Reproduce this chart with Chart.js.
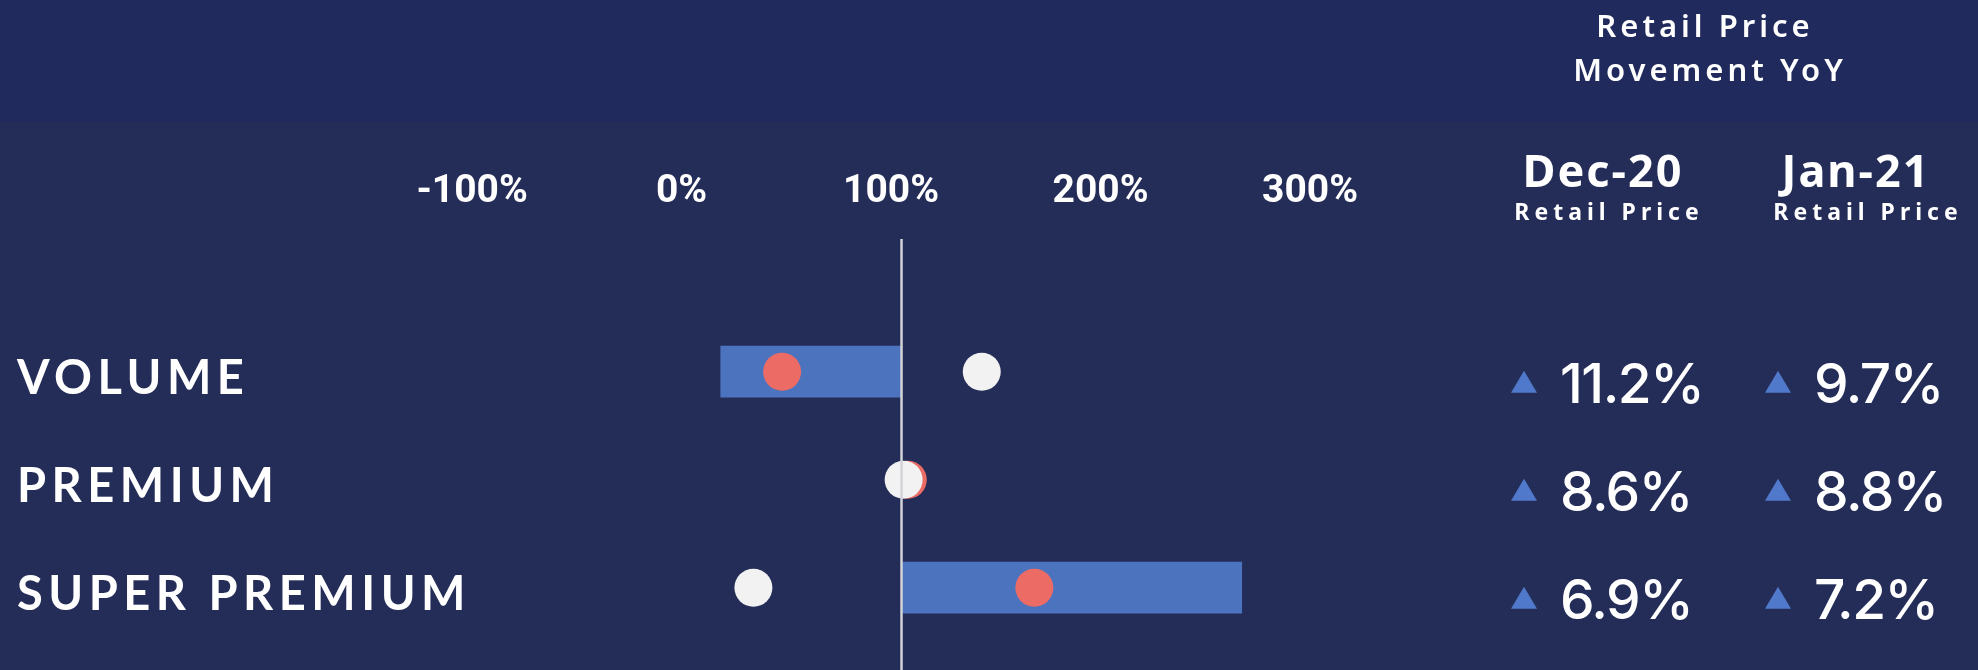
<!DOCTYPE html>
<html>
<head>
<meta charset="utf-8">
<script src="https://cdn.jsdelivr.net/npm/chart.js@4.4.1/dist/chart.umd.min.js"></script>
<style>
  html, body { margin: 0; padding: 0; background: #242c58; }
  canvas { display: block; }
</style>
</head>
<body>
<canvas id="chart" width="1978" height="670"></canvas>
<script>
const categories = ['VOLUME', 'PREMIUM', 'SUPER PREMIUM'];
const barRanges = [[18.7, 105], null, [105, 267.4]];
const redDots = [48, 108, 168.4];
const whiteDots = [143.3, 106, 34.3];
const baseline = 105;
const tickValues = [-100, 0, 100, 200, 300];

const headerLines = ['Retail Price', 'Movement YoY'];
const columns = ['Dec-20', 'Jan-21'];
const columnSub = 'Retail Price';
const dec20 = [11.2, 8.6, 6.9];
const jan21 = [9.7, 8.8, 7.2];

function toPoints(values) {
    return values.map((v, i) => ({ x: v, y: categories[i] }));
}

// background band, row labels, the YoY table and the 100% line
const overlay = {
    id: 'overlay',
    beforeDraw(chart) {
        const ctx = chart.ctx;
        ctx.save();
        ctx.fillStyle = '#242c58';
        ctx.fillRect(0, 0, chart.width, chart.height);
        ctx.fillStyle = '#212a5d';
        ctx.fillRect(0, 0, chart.width, 122);
        ctx.restore();
    },
    afterDatasetsDraw(chart) {
        const { ctx, scales: { x, y } } = chart;
        ctx.save();

        const lx = x.getPixelForValue(baseline);
        ctx.strokeStyle = '#d4d4d8';
        ctx.lineWidth = 2.5;
        ctx.beginPath();
        ctx.moveTo(lx, 239);
        ctx.lineTo(lx, chart.height);
        ctx.stroke();

        ctx.fillStyle = '#ffffff';
        ctx.textBaseline = 'alphabetic';

        // row labels
        ctx.textAlign = 'left';
        ctx.font = '700 47px Lato';
        ctx.letterSpacing = '5.5px';
        categories.forEach((c, i) => {
            ctx.fillText(c, 17, y.getPixelForValue(i) + 22);
        });

        // table header
        ctx.textAlign = 'center';
        ctx.font = '600 31px "Noto Sans"';
        ctx.letterSpacing = '4px';
        ctx.fillText(headerLines[0], 1705, 37);
        ctx.fillText(headerLines[1], 1710, 81);

        ctx.font = '700 45px "Noto Sans"';
        ctx.letterSpacing = '2px';
        ctx.fillText(columns[0], 1603, 187);
        ctx.fillText(columns[1], 1856, 187);

        ctx.font = '700 23px "Noto Sans"';
        ctx.letterSpacing = '5px';
        ctx.fillText(columnSub, 1609, 220);
        ctx.fillText(columnSub, 1868, 220);

        // values with up arrows
        ctx.letterSpacing = '-1.5px';
        ctx.textAlign = 'left';
        ctx.font = '500 55px Inter';
        [[dec20, 1560], [jan21, 1814]].forEach(([vals, tx]) => {
            vals.forEach((v, i) => {
                const py = y.getPixelForValue(i);
                const cx = tx - 36;
                ctx.fillStyle = '#5179cb';
                ctx.beginPath();
                ctx.moveTo(cx, py - 1);
                ctx.lineTo(cx + 13, py + 21);
                ctx.lineTo(cx - 13, py + 21);
                ctx.closePath();
                ctx.fill();
                ctx.fillStyle = '#ffffff';
                ctx.fillText(v.toFixed(1) + '%', tx, py + 31);
            });
        });

        ctx.restore();
    }
};

new Chart(document.getElementById('chart'), {
    type: 'bar',
    data: {
        labels: categories,
        datasets: [
            {
                type: 'line',
                label: 'Jan-21',
                data: toPoints(whiteDots),
                showLine: false,
                pointRadius: 19,
                pointHoverRadius: 19,
                borderWidth: 0,
                pointBorderWidth: 0,
                pointBackgroundColor: '#f2f2f2',
                order: 1
            },
            {
                type: 'line',
                label: 'Dec-20',
                data: toPoints(redDots),
                showLine: false,
                pointRadius: 19,
                pointHoverRadius: 19,
                borderWidth: 0,
                pointBorderWidth: 0,
                pointBackgroundColor: '#ec6b64',
                order: 2
            },
            {
                type: 'bar',
                label: 'Range',
                data: barRanges,
                backgroundColor: '#4c73be',
                borderWidth: 0,
                barThickness: 51,
                order: 3
            }
        ]
    },
    options: {
        indexAxis: 'y',
        responsive: false,
        animation: false,
        layout: { padding: { left: 409.2, right: 605.1, top: 117.7, bottom: 28.3 } },
        plugins: {
            legend: { display: false },
            tooltip: { enabled: false }
        },
        scales: {
            x: {
                type: 'linear',
                position: 'top',
                min: -130,
                max: 330,
                grid: { display: false, drawTicks: false },
                border: { display: false },
                afterFit(scale) { scale.height = 200; },
                afterBuildTicks(scale) { scale.ticks = tickValues.map(v => ({ value: v })); },
                ticks: {
                    color: '#ffffff',
                    font: { family: 'Roboto', weight: '700', size: 39, lineHeight: 1.2 },
                    padding: 101.8,
                    autoSkip: false,
                    maxRotation: 0,
                    callback: v => v + '%'
                }
            },
            y: {
                type: 'category',
                display: false,
                offset: true
            }
        }
    },
    plugins: [overlay]
});
</script>
</body>
</html>
